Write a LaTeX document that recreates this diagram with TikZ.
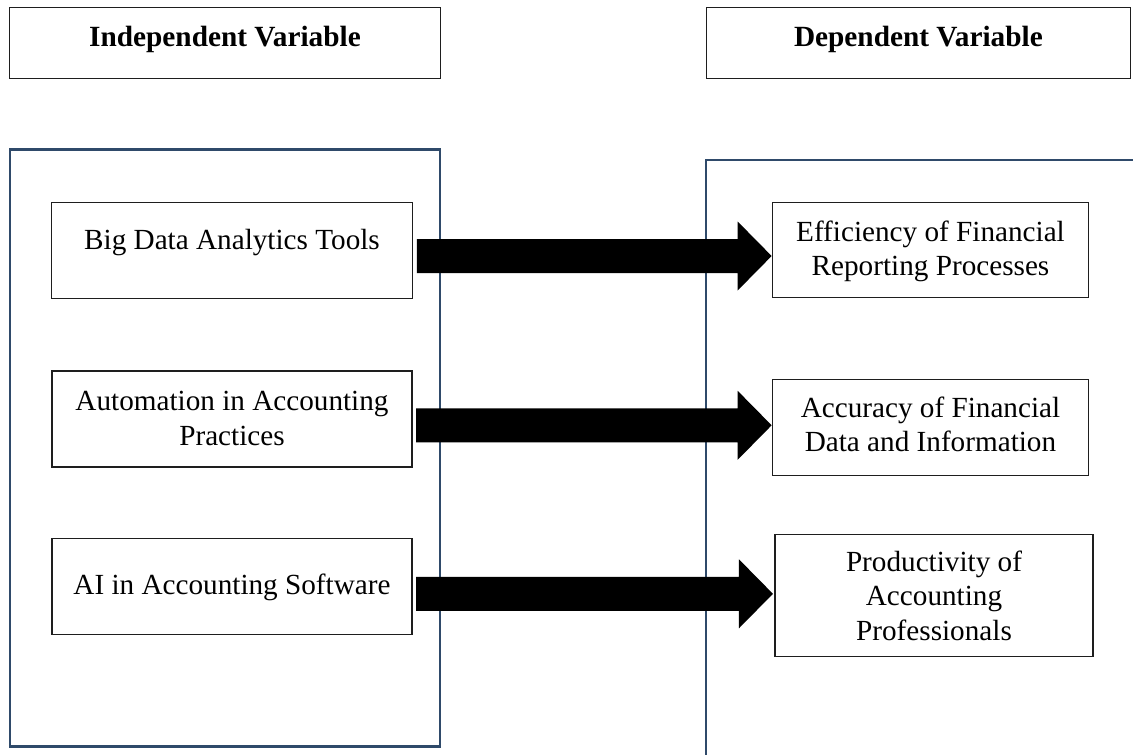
\documentclass[tikz,border=0pt]{standalone}
\usepackage{fontspec}
\setmainfont{Liberation Serif}
\usetikzlibrary{calc}
\definecolor{frameblue}{RGB}{47,74,106}
\definecolor{boxline}{RGB}{30,30,30}
\newcommand\blockarrow[2]{%
  \fill[black] let \p1=(#1), \p2=(#2) in
    (\x1,{\y1+17pt}) -- ({\x2-34pt},{\y1+17pt}) -- ({\x2-34pt},{\y1+34.5pt})
    -- (\x2,\y1) -- ({\x2-34pt},{\y1-34.5pt}) -- ({\x2-34pt},{\y1-17pt})
    -- (\x1,{\y1-17pt}) -- cycle;}
\begin{document}
\begin{tikzpicture}[x=1pt,y=-1pt,
  hdr/.style={draw=boxline, line width=1.1pt, inner sep=0pt, minimum height=70.4pt},
  inbox/.style={draw=boxline, line width=1.1pt, inner sep=0pt},
  frame/.style={draw=frameblue, line width=2.6pt, inner sep=0pt},
  txt/.style={anchor=base, inner sep=0pt, font=\fontsize{29.2}{34.5}\selectfont},
  htxt/.style={anchor=base, inner sep=0pt, font=\fontsize{29.3}{34.5}\selectfont\bfseries}]
\useasboundingbox (0,0) rectangle (1133,755);
% headers
\node[hdr, minimum width=430.4pt] (hl) at (225,43) {};
\node[htxt] (hlt) at (225,46.5) {Independent Variable};
\node[hdr, minimum width=423.7pt] (hr) at (918.4,43) {};
\node[htxt] (hrt) at (918.4,46.5) {Dependent Variable};
% containers
\node[frame, minimum width=430pt, minimum height=596.8pt] (lframe) at (225,448) {};
\draw[frameblue, line width=2.6pt] (1140,160) -- (706,160) -- (706,760);
% left boxes
\node[inbox, minimum width=361.6pt, minimum height=96pt] (l1) at (232,250.2) {};
\node[txt] (l1t) at (232,249) {Big Data Analytics Tools};
\node[inbox, minimum width=360pt, minimum height=96pt] (l2) at (232,419) {};
\node[txt] (l2t) at (232,410.5) {\parbox[t]{360pt}{\centering Automation in Accounting\\ Practices}};
\node[inbox, minimum width=360pt, minimum height=95.7pt] (l3) at (232,586.6) {};
\node[txt] (l3t) at (232,594) {AI in Accounting Software};
% right boxes
\node[inbox, minimum width=316.6pt, minimum height=95.6pt] (r1) at (930.5,250) {};
\node[txt] (r1t) at (930.5,241) {\parbox[t]{316pt}{\centering Efficiency of Financial\\ Reporting Processes}};
\node[inbox, minimum width=316.6pt, minimum height=95.7pt] (r2) at (930.5,427.6) {};
\node[txt] (r2t) at (930.5,417) {\parbox[t]{316pt}{\centering Accuracy of Financial\\ Data and Information}};
\node[inbox, minimum width=318pt, minimum height=121.7pt] (r3) at (934,595.3) {};
\node[txt] (r3t) at (934,571) {\parbox[t]{318pt}{\centering Productivity of\\ Accounting\\ Professionals}};
% arrows
\coordinate (a1s) at ($(l1.east)+(3.5,5.8)$);
\coordinate (a1t) at (r1.west |- a1s);
\coordinate (a2s) at ($(l2.east)+(3.5,6.3)$);
\coordinate (a2t) at (r2.west |- a2s);
\coordinate (a3s) at ($(l3.east)+(3.5,7.2)$);
\coordinate (a3t) at ($(r3.west |- a3s)+(-1.5,0)$);
\blockarrow{a1s}{a1t}
\blockarrow{a2s}{a2t}
\blockarrow{a3s}{a3t}
\end{tikzpicture}
\end{document}
